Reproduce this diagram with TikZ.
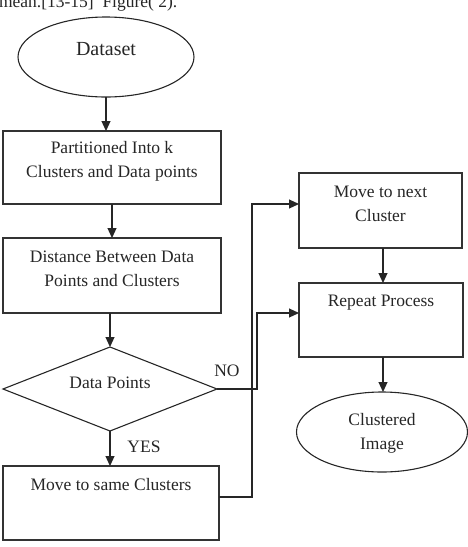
\documentclass[tikz,border=0pt]{standalone}
\usepackage{fontspec}
\setmainfont{Liberation Serif}
\usetikzlibrary{shapes.geometric,arrows.meta,calc}
\begin{document}
\begin{tikzpicture}[x=1pt,y=-1pt,
  line width=1.1pt,
  every node/.style={inner sep=0pt,outer sep=0pt},
  txt/.style={font=\fontsize{17.5}{23.5}\selectfont,align=center,text=black!85},
  boxnode/.style={draw=black!80,rectangle},
  ellnode/.style={draw=black!85,ellipse},
  dianode/.style={draw=black!85,diamond},
  arr/.style={draw=black!85,-{Triangle[length=10pt,width=9pt]}},
  conn/.style={draw=black!80}]
\useasboundingbox (0,0) rectangle (467,547);
% caption fragment
\node[txt,anchor=base west] (cap) at (-1,7.3) {mean.[13-15]\ \ Figure( 2).};
% shapes
\node[ellnode,minimum width=176pt,minimum height=80pt] (ds) at (106,57) {};
\node[txt,font=\fontsize{20}{24}\selectfont] (dst) at (106,49) {Dataset};
\node[boxnode,minimum width=218pt,minimum height=73pt] (b1) at (112,167.5) {};
\node[txt] (b1t) at (112,161.5) {Partitioned Into k\\Clusters and Data points};
\node[boxnode,minimum width=218pt,minimum height=75pt] (b2) at (112,275.5) {};
\node[txt] (b2t) at (112,269) {Distance Between Data\\Points and Clusters};
\node[dianode,minimum width=214pt,minimum height=84pt] (dia) at (110,389) {};
\node[txt] (diat) at (110,383) {Data Points};
\node[boxnode,minimum width=216pt,minimum height=74pt] (b3) at (111,503) {};
\node[txt] (b3t) at (111,485) {Move to same Clusters};
\node[boxnode,minimum width=163pt,minimum height=75pt] (mn) at (380.5,210.5) {};
\node[txt] (mnt) at (380.5,204) {Move to next\\Cluster};
\node[boxnode,minimum width=164pt,minimum height=74pt] (rp) at (381,320) {};
\node[txt] (rpt) at (381,303) {Repeat Process};
\node[ellnode,minimum width=171pt,minimum height=80pt] (ci) at (382,432) {};
\node[txt] (cit) at (382,433.5) {Clustered\\Image};
\node[txt] (no) at (227,371) {NO};
\node[txt] (yes) at (144,447) {YES};
% connectors
\draw[arr] (ds.south) -- (ds.south |- b1.north);
\draw[arr] (b1.south) -- (b2.north);
\draw[arr] (b2.south -| dia.north) -- (dia.north);
\draw[arr] (dia.south) -- (dia.south |- b3.north);
\draw[arr] (dia.east) -- ++(40,0) |- ([yshift=7pt]rp.west);
\draw[arr] ([yshift=6pt]b3.east) -- ++(33,0) |- ([yshift=6.5pt]mn.west);
\draw[arr] (mn.south -| rp.south) ++(2,0) coordinate (m1) -- (m1 |- rp.north);
\draw[arr] ([xshift=2pt]rp.south) -- ([xshift=1pt]ci.north);
\end{tikzpicture}
\end{document}
